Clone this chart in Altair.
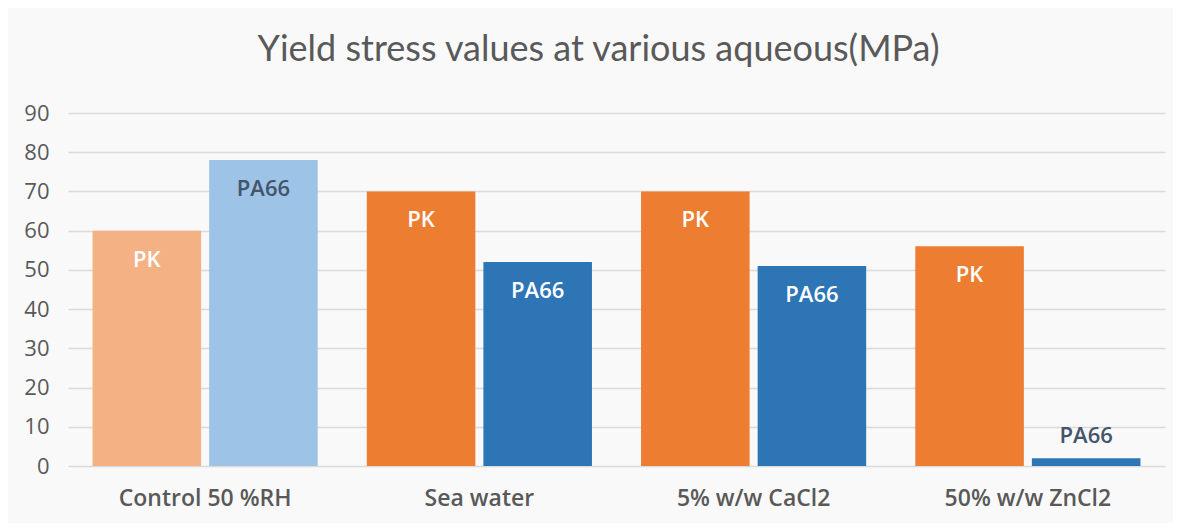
import altair as alt
import pandas as pd

conditions = ["Control 50 %RH", "Sea water", "5% w/w CaCl2", "50% w/w ZnCl2"]
series = ["PK", "PA66"]
pk_values = [60, 70, 70, 56]
pa66_values = [78, 52, 51, 2]
y_ticks = [0, 10, 20, 30, 40, 50, 60, 70, 80, 90]

rows = []
for i, c in enumerate(conditions):
    for s, vals in (("PK", pk_values), ("PA66", pa66_values)):
        tone = s + (" light" if i == 0 else "")
        rows.append({"cond": c, "series": s, "value": vals[i], "tone": tone})
df = pd.DataFrame(rows)

tone_domain = ["PK light", "PA66 light", "PK", "PA66"]
tone_range = ["#F4B183", "#9DC3E6", "#ED7D31", "#2E75B6"]

FONT = "Open Sans"

x = alt.X("cond:N", sort=conditions, title=None,
          scale=alt.Scale(paddingInner=0.179, paddingOuter=0.0895),
          axis=alt.Axis(labelAngle=0, labelFontSize=23, labelFontWeight=600,
                        labelColor="#595959", labelFont=FONT, labelPadding=21,
                        domain=False, ticks=False))
xo = alt.XOffset("series:N", sort=series,
                 scale=alt.Scale(paddingInner=0.069, paddingOuter=0))
y = alt.Y("value:Q", title=None,
          scale=alt.Scale(domain=[0, 90], nice=False),
          axis=alt.Axis(values=y_ticks, labelFontSize=22, labelColor="#595959",
                        labelFont=FONT, labelPadding=19, domain=False, ticks=False,
                        gridColor="#DADADA", gridWidth=1.5))

base = alt.Chart(df).encode(x=x, xOffset=xo, y=y)

bars = base.mark_bar().encode(
    color=alt.Color("tone:N", scale=alt.Scale(domain=tone_domain, range=tone_range),
                    legend=None)
)

inside_white = base.mark_text(dy=29, fontSize=22, fontWeight=600, font=FONT,
                              color="white").transform_filter(
    "datum.value >= 10 && datum.tone != 'PA66 light'")
inside_dark = base.mark_text(dy=29, fontSize=22, fontWeight=600, font=FONT,
                             color="#44546A").transform_filter(
    "datum.tone == 'PA66 light'")
outside = base.mark_text(dy=-22, fontSize=22, fontWeight=600, font=FONT,
                         color="#44546A").transform_filter("datum.value < 10")

text_field = alt.Text("series:N")
chart = alt.layer(
    bars,
    inside_white.encode(text=text_field),
    inside_dark.encode(text=text_field),
    outside.encode(text=text_field),
).properties(
    width=1097, height=353,
    title=alt.TitleParams("Yield stress values at various aqueous(MPa)",
                          font="Lato", fontSize=36,
                          fontWeight="normal", color="#595959", offset=33, dx=-18),
    autosize=alt.AutoSizeParams(type="none"),
    padding={"left": 60, "top": 105, "right": 8, "bottom": 57},
    background="#F9F9F9",
).configure_view(stroke=None)

chart.save("out.html", embed_options={"renderer": "svg", "actions": False})
